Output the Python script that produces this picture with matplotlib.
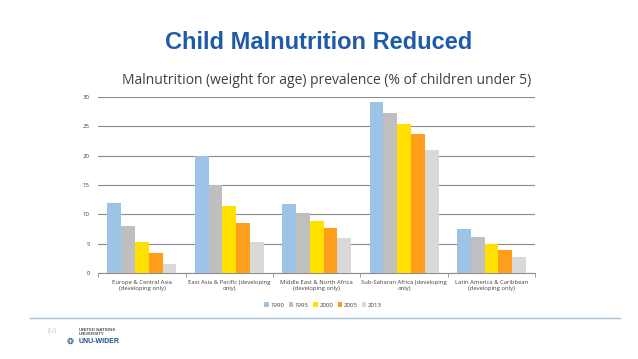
import numpy as np
import matplotlib.pyplot as plt

# Data
regions = [
    "Europe & Central Asia\n(developing only)",
    "East Asia & Pacific (developing\nonly)",
    "Middle East & North Africa\n(developing only)",
    "Sub-Saharan Africa (developing\nonly)",
    "Latin America & Caribbean\n(developing only)",
]
years = ["1990", "1995", "2000", "2005", "2013"]
v1990 = [12.0, 19.9, 11.8, 29.2, 7.5]
v1995 = [8.0, 15.0, 10.3, 27.2, 6.1]
v2000 = [5.3, 11.4, 8.9, 25.4, 4.9]
v2005 = [3.4, 8.5, 7.7, 23.6, 4.0]
v2013 = [1.6, 5.2, 6.0, 21.0, 2.7]
series = [v1990, v1995, v2000, v2005, v2013]
colors = ["#9DC3E6", "#BFBFBF", "#FFE000", "#FF9E1B", "#D9D9D9"]

plt.rcParams['font.family'] = ['Open Sans', 'DejaVu Sans']

fig = plt.figure(figsize=(6.38, 3.59), dpi=100)
ax = fig.add_axes([0.154, 0.2396, 0.685, 0.4904])

x = np.arange(len(regions))
w = 0.158
for i, (vals, c) in enumerate(zip(series, colors)):
    ax.bar(x + (i - 2) * w, vals, w, color=c, label=years[i], zorder=3)

ax.set_xlim(-0.5, len(regions) - 0.5)
ax.set_ylim(0, 30)
ax.set_yticks(range(0, 31, 5))
ax.yaxis.grid(True, color="#8C8C8C", linewidth=0.8, zorder=0)
ax.set_xticks(x)
ax.set_xticklabels(regions, fontsize=4.2, color="#404040", linespacing=1.35)
ax.tick_params(axis='x', length=0, pad=5)
ax.set_xticks(np.arange(-0.5, len(regions), 1), minor=True)
ax.tick_params(axis='x', which='minor', length=3, color="#8C8C8C", direction='out')
ax.tick_params(axis='y', labelsize=4.4, labelcolor="#404040", length=0, pad=6)
for s in ["top", "right", "left"]:
    ax.spines[s].set_visible(False)
ax.spines["bottom"].set_color("#8C8C8C")

ax.legend(loc="upper center", bbox_to_anchor=(0.515, -0.135), ncol=5, frameon=False,
          fontsize=4.4, handlelength=0.7, handleheight=0.7, handletextpad=0.3,
          columnspacing=0.7, labelcolor="#404040")

fig.text(0.5, 0.883, "Child Malnutrition Reduced", ha="center", va="center",
         fontsize=17, fontweight="bold", color="#1F5BA8", family="Liberation Sans")
fig.text(0.512, 0.777, "Malnutrition (weight for age) prevalence (% of children under 5)",
         ha="center", va="center", fontsize=10.0, color="#404040")

# footer line and logo text
fig.add_artist(plt.Line2D([0.047, 0.972], [0.114, 0.114], color="#A7BFD3", linewidth=1.0))
fig.text(0.124, 0.075, "UNITED NATIONS\nUNIVERSITY", fontsize=3.2, color="#555555",
         va="center", ha="left", linespacing=1.0, family="Liberation Sans", fontweight="bold")
fig.text(0.124, 0.050, "UNU-WIDER", fontsize=5.0, color="#1F4E8C", fontweight="bold",
         va="center", ha="left", family="Liberation Sans")
fig.text(0.082, 0.078, "(U)", fontsize=5, color="#B8CCE4", va="center", ha="center")
fig.text(0.110, 0.050, "\u2742", fontsize=6, color="#1F4E8C", va="center", ha="center",
         family="DejaVu Sans")

fig.savefig("out.png", dpi=100)
